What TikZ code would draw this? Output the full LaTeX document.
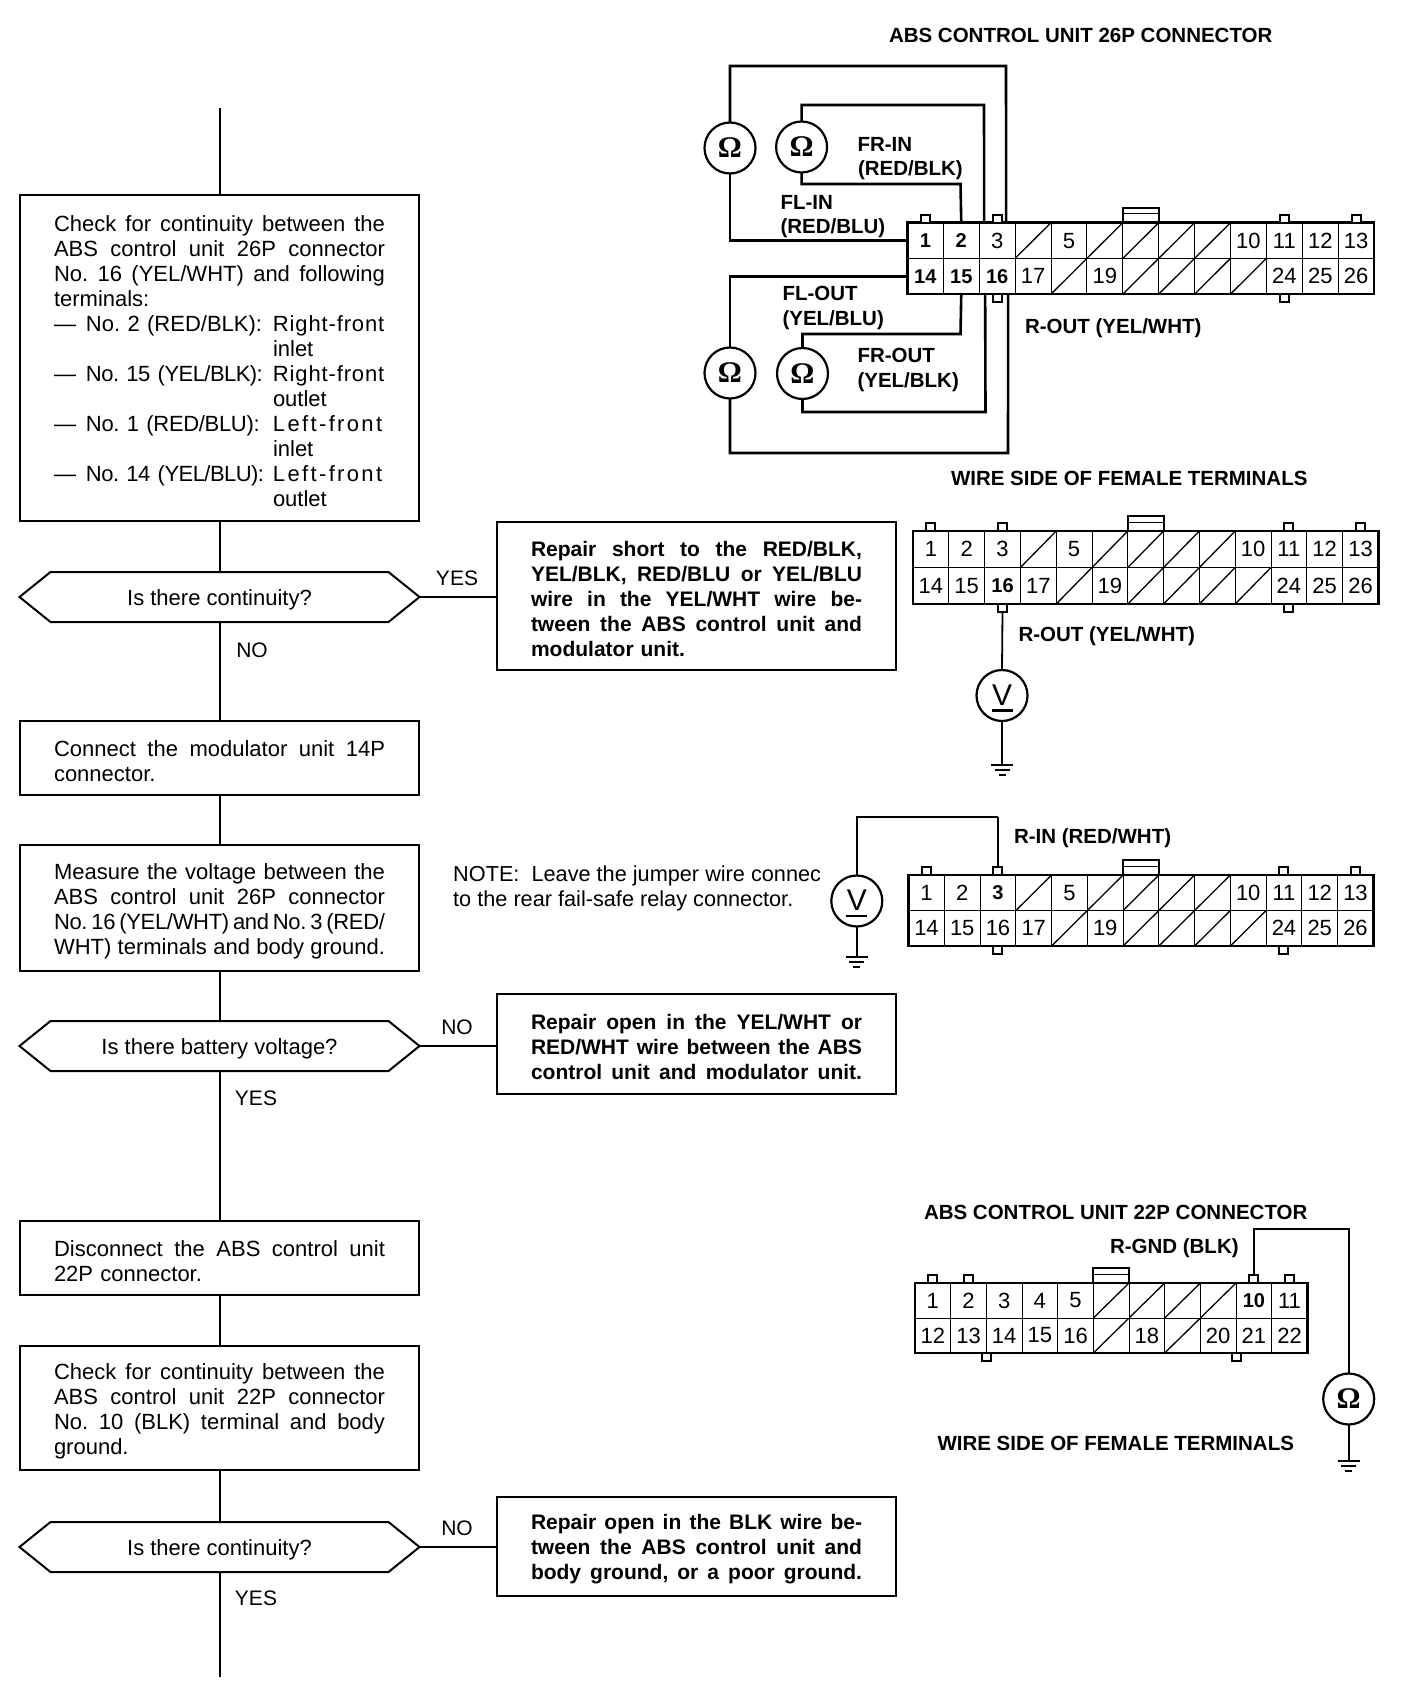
\documentclass[tikz,border=0pt]{standalone}
\usepackage{fontspec}
\setmainfont{Liberation Sans}
\newfontfamily\omfont{Liberation Serif}[BoldFont={* Bold}]
\usetikzlibrary{calc}
\newcommand{\stretchsp}{\spaceskip=.28em plus 1em minus .2em\relax\xspaceskip=\spaceskip}
\newcommand{\jl}[1]{\makebox[331pt][s]{\stretchsp #1}}
\newcommand{\lsr}[1]{{\addfontfeature{LetterSpace=3.9}#1}}
\newcommand{\lsl}[1]{{\addfontfeature{LetterSpace=10.7}#1}}
\newcommand{\lsn}[1]{{\addfontfeature{LetterSpace=-1.5}#1}}
\newcommand{\lsm}[1]{{\addfontfeature{LetterSpace=-2.5}#1}}
\newcommand{\itm}[2]{\makebox[32pt][l]{—}\makebox[187pt][l]{#1}#2}
\newcommand{\itmb}[1]{\makebox[219pt][l]{}#1}
\tikzset{
  x=1pt,y=-1pt,
  boxline/.style={line width=2pt,draw=black,line join=miter},
  flow/.style={line width=2pt,draw=black},
  wire/.style={line width=2.6pt,draw=black},
  thinwire/.style={line width=1.8pt,draw=black},
  bodyfont/.style={font=\fontsize{22}{25}\selectfont\frenchspacing},
  fbox/.style={boxline,rectangle,anchor=north west,inner sep=0pt,outer sep=0pt,minimum width=399pt,align=left,text width=331pt,bodyfont,execute at end node={\par\vspace*{-6pt}}},
  rbox/.style={fbox,font=\fontsize{21}{25}\selectfont\bfseries\frenchspacing},
  dec/.style={rectangle,inner sep=0pt,outer sep=0pt,minimum width=400pt,minimum height=50pt,bodyfont,text height=20pt,text depth=4pt},
  lab/.style={inner sep=0pt,outer sep=0pt,anchor=base west,font=\fontsize{20.5}{24}\selectfont\bfseries,align=left},
  yn/.style={inner sep=0pt,font=\fontsize{21}{25}\selectfont},
  cell/.style={rectangle,draw=black,line width=1pt,anchor=north west,inner sep=0pt,outer sep=0pt},
  celln/.style={cell,font=\fontsize{22}{22}\selectfont},
  cellb/.style={cell,font=\fontsize{20}{22}\selectfont\bfseries},
  cellx/.style={cell,path picture={\draw[line width=1.3pt] (path picture bounding box.south west) -- (path picture bounding box.north east);}},
  tabnode/.style={rectangle,draw=black,fill=white,line width=2pt,minimum width=9pt,minimum height=8pt,inner sep=0pt,outer sep=0pt},
  meter/.style={circle,draw=black,line width=2.2pt,fill=white,minimum size=51pt,inner sep=0pt,outer sep=0pt},
  ohm/.style={meter,font=\fontsize{30}{30}\selectfont\omfont\bfseries},
  volt/.style={meter,font=\fontsize{30}{30}\selectfont,path picture={\draw[line width=2.2pt] ([xshift=-10.5pt,yshift=-15pt]path picture bounding box.center) -- ++(21pt,0pt);}},
}
\newcommand{\conn}[8]{%
  \foreach \t/\s [count=\i] in {#7}{\node[cell\s,minimum width=#4pt,minimum height=#5pt] (#1t\i) at ({#2+(\i-1)*#4},{#3}) {\t};}
  \foreach \t/\s [count=\i] in {#8}{\node[cell\s,minimum width=#4pt,minimum height=#5pt] (#1b\i) at ({#2+(\i-1)*#4},{#3+#5}) {\t};}
  \draw[line width=2.6pt] (#1t1.north west) rectangle (#1b#6.south east);
}
\newcommand{\tabup}[2]{\node[tabnode,anchor=south] (#1) at (#2.north) {};}
\newcommand{\tabdn}[2]{\node[tabnode,anchor=north] (#1) at (#2.south) {};}
\newcommand{\clipb}[2]{%
  \node[rectangle,draw=black,line width=2pt,anchor=south,minimum height=15pt,minimum width=35.8pt,inner sep=0pt,outer sep=0pt] (#1) at (#2.north) {};
  \draw[line width=1pt] ([yshift=-6pt]#1.north west) -- ([yshift=-6pt]#1.north east);
}
\newcommand{\gnd}[1]{%
  \draw[thinwire] ([xshift=-11pt]#1) -- ([xshift=11pt]#1);
  \draw[line width=1.4pt] ([xshift=-7.5pt,yshift=-5pt]#1) -- ([xshift=7.5pt,yshift=-5pt]#1);
  \draw[line width=1.4pt] ([xshift=-3.5pt,yshift=-10pt]#1) -- ([xshift=3.5pt,yshift=-10pt]#1);
}
\newcommand{\hexa}[1]{%
  \draw[boxline] (#1.west) -- ([xshift=31pt]#1.north west) -- ([xshift=-31pt]#1.north east) -- (#1.east) -- ([xshift=-31pt]#1.south east) -- ([xshift=31pt]#1.south west) -- cycle;
}
\begin{document}
\begin{tikzpicture}
\useasboundingbox (0,0) rectangle (1424,1684);
\fill[white] (0,0) rectangle (1424,1684);
% ---------- flow chart
\coordinate (flowtop) at (219.5,108);
\coordinate (flowend) at (219.5,1677);
\node[fbox,minimum height=326pt] (b1) at (20,195) {\jl{Check for continuity between the}\\\jl{ABS control unit 26P connector}\\\jl{No. 16 (YEL/WHT) and following}\\terminals:\\\itm{No. 2 (RED/BLK):}{\lsr{Right-front}}\\\itmb{inlet}\\\itm{\lsm{No. 15 (YEL/BLK):}}{\lsr{Right-front}}\\\itmb{outlet}\\\itm{\lsn{No. 1 (RED/BLU):}}{\lsl{Left-front}}\\\itmb{inlet}\\\itm{\lsm{No. 14 (YEL/BLU):}}{\lsl{Left-front}}\\\itmb{outlet}};
\node[dec] (d1) at (219.5,597) {Is there continuity?};
\hexa{d1}
\node[rbox,minimum height=148pt] (r1) at (497,522) {\jl{Repair short to the RED/BLK,}\\\jl{YEL/BLK, RED/BLU or YEL/BLU}\\\jl{wire in the YEL/WHT wire be-}\\\jl{tween the ABS control unit and}\\modulator unit.};
\node[fbox,minimum height=74pt] (b2) at (20,721) {\jl{Connect the modulator unit 14P}\\connector.};
\node[fbox,minimum height=126pt] (b3) at (20,845) {\jl{Measure the voltage between the}\\\jl{ABS control unit 26P connector}\\\jl{\lsn{No. 16 (YEL/WHT) and No. 3 (RED/}}\\\jl{WHT) terminals and body ground.}};
\node[dec] (d2) at (219.5,1046) {Is there battery voltage?};
\hexa{d2}
\node[rbox,minimum height=100pt] (r2) at (497,994) {\jl{Repair open in the YEL/WHT or}\\\jl{RED/WHT wire between the ABS}\\\jl{control unit and modulator unit.}};
\node[fbox,minimum height=74pt] (b4) at (20,1221) {\jl{Disconnect the ABS control unit}\\22P connector.};
\node[fbox,minimum height=124pt] (b5) at (20,1346) {\jl{Check for continuity between the}\\\jl{ABS control unit 22P connector}\\\jl{No. 10 (BLK) terminal and body}\\ground.};
\node[dec] (d3) at (219.5,1547) {Is there continuity?};
\hexa{d3}
\node[rbox,minimum height=99pt] (r3) at (497,1497) {\jl{Repair open in the BLK wire be-}\\\jl{tween the ABS control unit and}\\\jl{body ground, or a poor ground.}};
\draw[flow] (flowtop) -- (b1.north);
\draw[flow] (b1.south) -- (d1.north);
\draw[flow] (d1.south) -- (b2.north);
\draw[flow] (b2.south) -- (b3.north);
\draw[flow] (b3.south) -- (d2.north);
\draw[flow] (d2.south) -- (b4.north);
\draw[flow] (b4.south) -- (b5.north);
\draw[flow] (b5.south) -- (d3.north);
\draw[flow] (d3.south) -- (flowend);
\draw[flow] (d1.east) -- (d1.east -| r1.west);
\draw[flow] (d2.east) -- (d2.east -| r2.west);
\draw[flow] (d3.east) -- (d3.east -| r3.west);
\node[yn] (y1) at (457,578) {YES};
\node[yn] (n1) at (252,650) {NO};
\node[yn] (n2) at (457,1027) {NO};
\node[yn] (y2) at (256,1098) {YES};
\node[yn] (n3) at (457,1528) {NO};
\node[yn] (y3) at (256,1598) {YES};
\node[inner sep=0pt,anchor=west,align=left,font=\fontsize{21.7}{25}\selectfont\frenchspacing] (note) at (453,888) {NOTE:\ \ Leave the jumper wire connec\\to the rear fail-safe relay connector.};
% ---------- connector A
\conn{A}{907.4}{222.7}{35.9}{35.7}{13}{1/b,2/b,3/n,{}/x,5/n,{}/x,{}/x,{}/x,{}/x,10/n,11/n,12/n,13/n}{14/b,15/b,16/b,17/n,{}/x,19/n,{}/x,{}/x,{}/x,{}/x,24/n,25/n,26/n}
\tabup{Ata}{At1}\tabup{Atb}{At3}\tabup{Atc}{At11}\tabup{Atd}{At13}\tabdn{Aba}{Ab3}\tabdn{Abb}{Ab11}
\clipb{Aclip}{At7}
\node[ohm] (mA) at (730,148) {Ω};
\node[ohm] (mB) at (801.6,147) {Ω};
\node[ohm] (mC) at (730,373) {Ω};
\node[ohm] (mD) at (802.5,373.5) {Ω};
\coordinate (ba) at (1006,66);
\coordinate (bb) at (984,105);
\coordinate (bc) at (960.5,184);
\coordinate (bd) at (1008,453);
\coordinate (be) at (960.5,334);
\coordinate (bf) at (985.5,412);
\draw[wire] (mA.north) |- (ba) -- ([xshift=9pt]At3.north);
\draw[wire] (mA.south) |- (At1.west);
\draw[wire] (mB.north) |- (bb) -- ([xshift=-13pt]At3.north);
\draw[wire] (mB.south) |- (bc) -- (At2.north);
\draw[wire] (mC.north) |- (Ab1.west);
\draw[wire] (mC.south) |- (bd) -- ([xshift=11pt]Ab3.south);
\draw[wire] (mD.north) |- (be) -- (Ab2.south);
\draw[wire] (mD.south) |- (bf) -- ([xshift=-12pt]Ab3.south);
\node[lab] (tA) at (889,42) {ABS CONTROL UNIT 26P CONNECTOR};
\node[lab] (l1) at (857.5,151) {FR-IN};
\node[lab] (l2) at (858,175) {(RED/BLK)};
\node[lab] (l3) at (780.5,209) {FL-IN};
\node[lab] (l4) at (780.5,233) {(RED/BLU)};
\node[lab] (l5) at (782.5,300) {FL-OUT};
\node[lab] (l6) at (782.5,325) {(YEL/BLU)};
\node[lab] (l7) at (857.5,362) {FR-OUT};
\node[lab] (l8) at (857.5,387) {(YEL/BLK)};
\node[lab] (l9) at (1025,333) {R-OUT (YEL/WHT)};
% ---------- connector B
\node[lab] (tB) at (951,485) {WIRE SIDE OF FEMALE TERMINALS};
\conn{B}{913}{531}{35.8}{36.5}{13}{1/n,2/n,3/n,{}/x,5/n,{}/x,{}/x,{}/x,{}/x,10/n,11/n,12/n,13/n}{14/n,15/n,16/b,17/n,{}/x,19/n,{}/x,{}/x,{}/x,{}/x,24/n,25/n,26/n}
\tabup{Bta}{Bt1}\tabup{Btb}{Bt3}\tabup{Btc}{Bt11}\tabup{Btd}{Bt13}\tabdn{Bba}{Bb3}\tabdn{Bbb}{Bb11}
\clipb{Bclip}{Bt7}
\node[volt] (mE) at (1002,695.5) {\raisebox{1.5pt}{V}};
\coordinate (gE) at (1002,765);
\draw[thinwire] (Bba.south) -- (mE.north);
\draw[wire] (mE.south) -- (gE);
\gnd{gE}
\node[lab] (l10) at (1018.5,641) {R-OUT (YEL/WHT)};
% ---------- connector C
\conn{C}{908.6}{875}{35.75}{35.5}{13}{1/n,2/n,3/b,{}/x,5/n,{}/x,{}/x,{}/x,{}/x,10/n,11/n,12/n,13/n}{14/n,15/n,16/n,17/n,{}/x,19/n,{}/x,{}/x,{}/x,{}/x,24/n,25/n,26/n}
\tabup{Cta}{Ct1}\tabup{Ctb}{Ct3}\tabup{Ctc}{Ct11}\tabup{Ctd}{Ct13}\tabdn{Cba}{Cb3}\tabdn{Cbb}{Cb11}
\clipb{Cclip}{Ct7}
\node[volt] (mF) at (856.8,901) {\raisebox{1.5pt}{V}};
\coordinate (bg) at (998,817);
\coordinate (gF) at (856.8,957);
\draw[wire] (mF.north) |- (bg);
\draw[thinwire] (bg) -- (Ctb.north);
\draw[thinwire] (mF.south) -- (gF);
\gnd{gF}
\node[lab] (l11) at (1014,843) {R-IN (RED/WHT)};
% ---------- connector D
\node[lab] (tD) at (924,1219.5) {ABS CONTROL UNIT 22P CONNECTOR};
\node[lab] (l12) at (1110,1253.5) {R-GND (BLK)};
\conn{D}{915}{1283}{35.67}{35}{11}{1/n,2/n,3/n,4/n,5/n,{}/x,{}/x,{}/x,{}/x,10/b,11/n}{12/n,13/n,14/n,15/n,16/n,{}/x,18/n,{}/x,20/n,21/n,22/n}
\tabup{Dta}{Dt1}\tabup{Dtb}{Dt2}\tabup{Dtc}{Dt10}\tabup{Dtd}{Dt11}
\node[tabnode,anchor=north] (Dba) at (Db2.south east) {};
\node[tabnode,anchor=north] (Dbb) at (Db9.south east) {};
\clipb{Dclip}{Dt6}
\node[ohm] (mG) at (1348.7,1399) {Ω};
\coordinate (bh) at (1348.7,1229);
\coordinate (gG) at (1348.7,1461);
\draw[thinwire] (Dtc.north) |- (bh) -- (mG.north);
\draw[thinwire] (mG.south) -- (gG);
\gnd{gG}
\node[lab] (tE) at (937.5,1450) {WIRE SIDE OF FEMALE TERMINALS};
\end{tikzpicture}
\end{document}
